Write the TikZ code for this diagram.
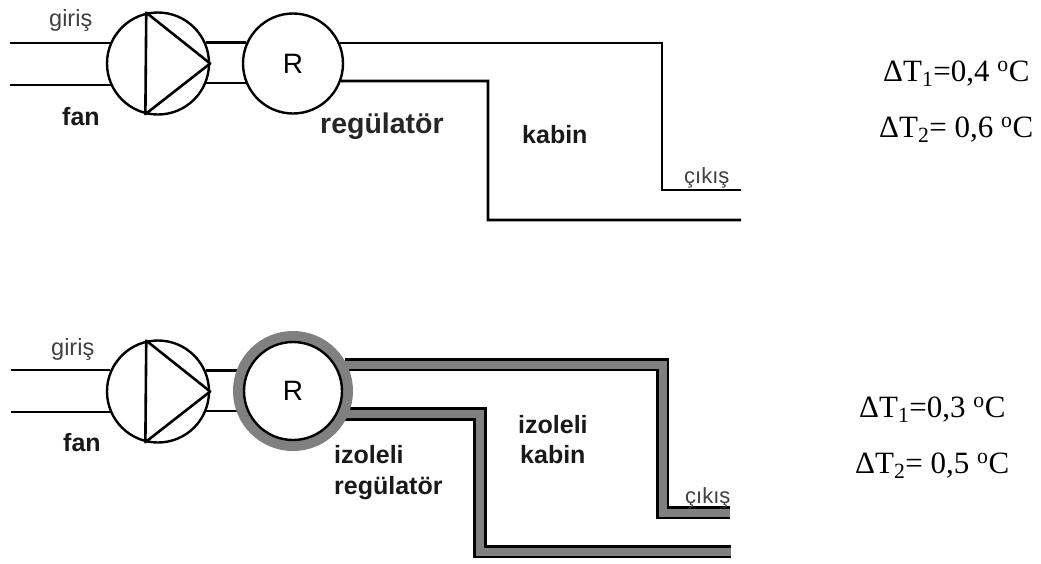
\documentclass[tikz,border=0pt]{standalone}
\usepackage{fontspec}
\setmainfont{Liberation Serif}
\setsansfont{Liberation Sans}
\tikzset{
  pipe/.style={black, line width=2.6pt},
  tube/.style={black, line width=2.6pt, double=gray, double distance=8pt},
  bodyA/.style={circle, draw=black, line width=2.4pt, inner sep=0pt, minimum size=#1},
  ringA/.style={circle, draw=gray, line width=11pt, inner sep=0pt, minimum size=#1},
  thinlabel/.style={anchor=base west, inner sep=0pt, font=\fontsize{23.5}{24}\sffamily\selectfont, text=black!75},
  boldlabel/.style={anchor=base west, inner sep=0pt, font=\fontsize{25}{25}\sffamily\bfseries\selectfont, text=black!90},
  biglabel/.style={anchor=base west, inner sep=0pt, font=\fontsize{28.5}{29}\sffamily\bfseries\selectfont, text=black!85},
  smalllabel/.style={anchor=base west, inner sep=0pt, font=\fontsize{22}{22}\sffamily\selectfont, text=black!75},
  rlabel/.style={inner sep=0pt, font=\fontsize{28}{28}\sffamily\selectfont},
  templabel/.style={anchor=base west, inner sep=0pt, font=\fontsize{31}{31}\rmfamily\selectfont},
}
\begin{document}
\begin{tikzpicture}[x=1pt, y=-1pt]
  \useasboundingbox (0,0) rectangle (1041,563);
  % upper circuit
  \node[bodyA=102pt] (fanA) at (158,63.5) {};
  \node[bodyA=100pt, rlabel] (regA) at (293,63.5) {R};
  \coordinate (inAu) at (10,43);
  \coordinate (inAl) at (10,85);
  \coordinate (bendAu) at (662,43);
  \coordinate (bendAl) at (488,81);
  \coordinate (outAu) at (741,190);
  \coordinate (outAl) at (741,220);
  \draw[pipe] (inAu) -- (inAu -| fanA.156);
  \draw[pipe] (inAl) -- (inAl -| fanA.205);
  \draw[pipe] (fanA.24) -- (fanA.24 -| regA.156);
  \draw[pipe] (fanA.-22) -- (fanA.-22 -| regA.205);
  \draw[pipe] (regA.24 |- inAu) -- (bendAu) |- (outAu);
  \draw[pipe] (regA.-20) -- (bendAl) |- (outAl);
  \draw[pipe, line join=round] (fanA.103.5) -- (fanA.256.5) -- (fanA.east) -- cycle;
  \node[thinlabel] (inletA) at (49,26) {giriş};
  \node[boldlabel] (fanlabelA) at (62,125) {fan};
  \node[biglabel] (reglabelA) at (320,133) {regülatör};
  \node[boldlabel] (cablabelA) at (522,143) {kabin};
  \node[smalllabel] (outletA) at (684,183) {çıkış};
  \node[templabel] (dtAa) at (883,81) {ΔT\textsubscript{1}=0,4 \textsuperscript{o}C};
  \node[templabel] (dtAb) at (879,137) {ΔT\textsubscript{2}= 0,6 \textsuperscript{o}C};
  % lower circuit
  \node[bodyA=102pt] (fanB) at (158,391.5) {};
  \coordinate (inBu) at (11,370);
  \coordinate (inBl) at (11,412);
  \coordinate (bendBu) at (662.5,364.5);
  \coordinate (bendBl) at (480,414);
  \coordinate (outBu) at (730,512.5);
  \coordinate (outBl) at (731,551.5);
  \draw[pipe] (inBu) -- (inBu -| fanB.156);
  \draw[pipe] (inBl) -- (inBl -| fanB.205);
  \draw[pipe] (fanB.24) -- (fanB.24 -| 240,0);
  \draw[pipe] (fanB.-22) -- (fanB.-22 -| 240,0);
  \draw[pipe, line join=round] (fanB.103.5) -- (fanB.256.5) -- (fanB.east) -- cycle;
  \draw[tube] (345,364.5) -- (bendBu) |- (outBu);
  \draw[tube] (345,414) -- (bendBl) |- (outBl);
  \node[ringA=109pt] (ringB) at (293,391) {};
  \node[bodyA=98pt, rlabel] (regB) at (293,391) {R};
  \node[thinlabel] (inletB) at (51,355) {giriş};
  \node[boldlabel] (fanlabelB) at (63,451) {fan};
  \node[boldlabel] (reglabelBa) at (334,463) {izoleli};
  \node[boldlabel] (reglabelBb) at (334,494) {regülatör};
  \node[boldlabel] (cablabelBa) at (518,433) {izoleli};
  \node[boldlabel] (cablabelBb) at (520,463) {kabin};
  \node[smalllabel] (outletB) at (685,503) {çıkış};
  \node[templabel] (dtBa) at (859,417) {ΔT\textsubscript{1}=0,3 \textsuperscript{o}C};
  \node[templabel] (dtBb) at (855,473) {ΔT\textsubscript{2}= 0,5 \textsuperscript{o}C};
\end{tikzpicture}
\end{document}
